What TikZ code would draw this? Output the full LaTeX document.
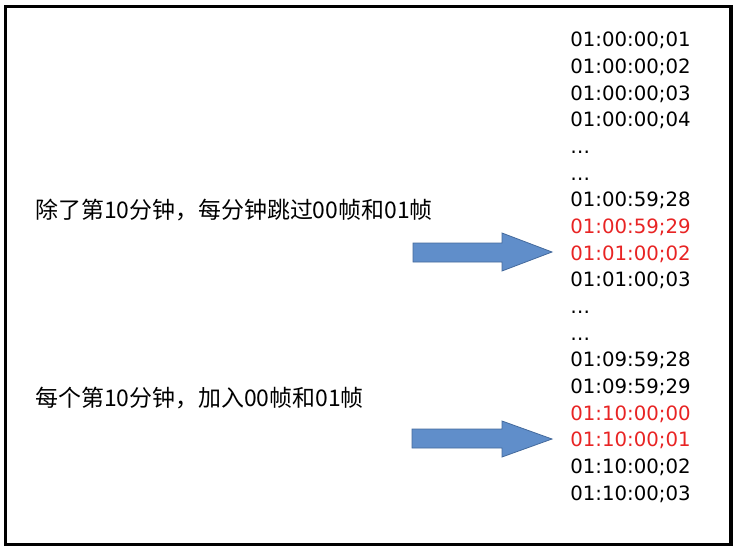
\documentclass[tikz,border=0pt]{standalone}
\usepackage{fontspec}
\setmainfont{DejaVu Sans}
\newfontfamily\cjk{Noto Sans CJK SC}
\usepackage{tikz}
\definecolor{tcred}{RGB}{232,36,36}
\definecolor{arrowblue}{RGB}{96,142,202}
\definecolor{arrowedge}{RGB}{68,106,156}
\tikzset{
  tc/.style={anchor=base west, inner sep=0pt, font=\fontsize{14.8}{18}\selectfont},
  note/.style={anchor=west, inner sep=0pt, font=\cjk\fontsize{17.2}{20}\selectfont},
  blockarrow/.style={fill=arrowblue, draw=arrowedge, line width=0.6pt, line join=miter}
}

\begin{document}
\begin{tikzpicture}[x=0.75pt, y=-0.75pt]
              \useasboundingbox (0, 0) rectangle (738, 552);
              \draw[line width=2.6pt] (5.5, 6.5) rectangle (731, 544.5);
              \node[note] (skip) at (35, 210) {除了第10分钟，每分钟跳过00帧和01帧};
              \node[note] (keep) at (35, 398) {每个第10分钟，加入00帧和01帧};
              \draw[blockarrow] (413, 243) -- (502, 243) -- (502, 233) -- (552, 252)
                -- (502, 271) -- (502, 262) -- (413, 262) -- cycle;
              \draw[blockarrow] (412, 429) -- (502, 429) -- (502, 421) -- (552, 439)
                -- (502, 457) -- (502, 448) -- (412, 448) -- cycle;
              \node[tc] (t1) at (570, 47) {01:00:00;01};
              \node[tc] (t2) at (570, 73.7) {01:00:00;02};
              \node[tc] (t3) at (570, 100.3) {01:00:00;03};
              \node[tc] (t4) at (570, 127) {01:00:00;04};
              \node[tc] (t5) at (570, 153.6) {…};
              \node[tc] (t6) at (570, 180.3) {…};
              \node[tc] (t7) at (570, 206.9) {01:00:59;28};
              \node[tc, text=tcred] (t8) at (570, 233.6) {01:00:59;29};
              \node[tc, text=tcred] (t9) at (570, 260.2) {01:01:00;02};
              \node[tc] (t10) at (570, 286.9) {01:01:00;03};
              \node[tc] (t11) at (570, 313.5) {…};
              \node[tc] (t12) at (570, 340.2) {…};
              \node[tc] (t13) at (570, 366.8) {01:09:59;28};
              \node[tc] (t14) at (570, 393.5) {01:09:59;29};
              \node[tc, text=tcred] (t15) at (570, 420.1) {01:10:00;00};
              \node[tc, text=tcred] (t16) at (570, 446.8) {01:10:00;01};
              \node[tc] (t17) at (570, 473.4) {01:10:00;02};
              \node[tc] (t18) at (570, 500) {01:10:00;03};
            \end{tikzpicture}
\end{document}
